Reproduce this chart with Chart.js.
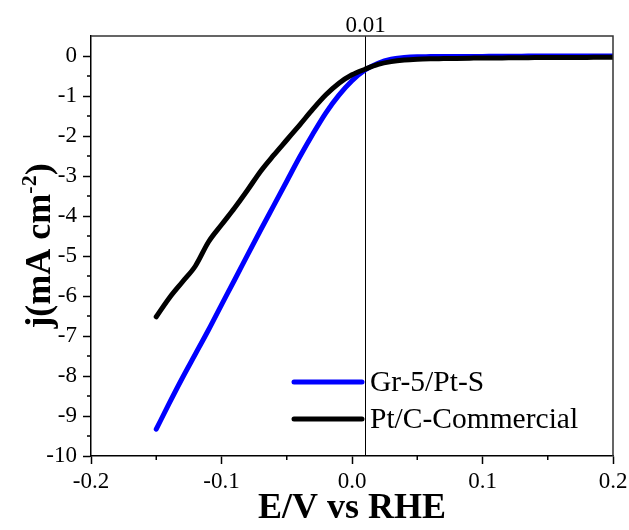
<!DOCTYPE html>
<html lang="en">
<head>
  <meta charset="UTF-8" />
  <title>LSV polarization curves</title>
  <style>
    body { margin: 0; background: #fff; }
    #wrap { width: 629px; height: 530px; }
  </style>
</head>
<body>
  <div id="wrap"><canvas id="lsv"></canvas></div>

  <script src="https://cdn.jsdelivr.net/npm/chart.js"></script>
  <script>
    // potential (V vs RHE), shared by both curves
    const potential = [-0.15, -0.14, -0.13, -0.12, -0.11, -0.10, -0.09, -0.08, -0.07, -0.06,
      -0.05, -0.04, -0.03, -0.02, -0.01, 0.00, 0.01, 0.02, 0.03, 0.04, 0.05, 0.06, 0.07, 0.08,
      0.09, 0.10, 0.11, 0.12, 0.13, 0.14, 0.15, 0.16, 0.17, 0.18, 0.19, 0.20];

    // current density, mA cm-2
    const grPtS = [-9.33, -8.68, -8.05, -7.45, -6.85, -6.22, -5.60, -4.97, -4.35, -3.74,
      -3.13, -2.52, -1.95, -1.42, -0.98, -0.62, -0.35, -0.18, -0.08, -0.04, -0.02, -0.015, -0.01, -0.01,
      -0.01, -0.01, -0.005, -0.005, -0.005, 0, 0, 0, 0, 0, 0, 0];
    const ptcCommercial = [-6.52, -6.05, -5.65, -5.25, -4.65, -4.22, -3.80, -3.35, -2.88, -2.48,
      -2.10, -1.72, -1.33, -0.97, -0.68, -0.47, -0.33, -0.21, -0.14, -0.10, -0.08, -0.07, -0.065, -0.06,
      -0.055, -0.05, -0.05, -0.045, -0.045, -0.04, -0.04, -0.04, -0.035, -0.035, -0.03, -0.03];

    const seriesNames = ['Gr-5/Pt-S', 'Pt/C-Commercial'];
    const xTicks = [-0.2, -0.1, 0.0, 0.1, 0.2];
    const yTicks = [0, -1, -2, -3, -4, -5, -6, -7, -8, -9, -10];
    const xMinor = [-0.15, -0.05, 0.05, 0.15];
    const yMinor = [-0.5, -1.5, -2.5, -3.5, -4.5, -5.5, -6.5, -7.5, -8.5, -9.5];
    const markerE = 0.01;

    const serif = "'Liberation Serif', 'Times New Roman', serif";

    const toPoints = (ys) => potential.map((x, i) => ({ x: x, y: ys[i] }));

    // frame, minor ticks, 0.01 marker, legend and y title
    const extras = {
      id: 'extras',
      beforeDatasetsDraw(chart) {
        const { ctx, chartArea: a, scales: { x } } = chart;
        const px = Math.round(x.getPixelForValue(markerE)) + 0.5;
        ctx.save();
        ctx.strokeStyle = '#000';
        ctx.lineWidth = 1;
        ctx.beginPath();
        ctx.moveTo(px, a.top);
        ctx.lineTo(px, a.bottom);
        ctx.stroke();
        ctx.fillStyle = '#000';
        ctx.font = '23px ' + serif;
        ctx.textAlign = 'center';
        ctx.textBaseline = 'alphabetic';
        ctx.fillText('0.01', px, a.top - 4);
        ctx.restore();
      },
      afterDraw(chart) {
        const { ctx, chartArea: a, scales: { x, y } } = chart;
        ctx.save();
        // top and right edges
        ctx.strokeStyle = '#333';
        ctx.lineWidth = 1.5;
        ctx.beginPath();
        ctx.moveTo(a.left, a.top);
        ctx.lineTo(a.right, a.top);
        ctx.lineTo(a.right, a.bottom);
        ctx.stroke();
        // minor ticks
        ctx.strokeStyle = '#000';
        ctx.lineWidth = 1.5;
        ctx.beginPath();
        xMinor.forEach(v => {
          const p = x.getPixelForValue(v);
          ctx.moveTo(p, a.bottom);
          ctx.lineTo(p, a.bottom + 4);
        });
        yMinor.forEach(v => {
          const p = y.getPixelForValue(v);
          ctx.moveTo(a.left, p);
          ctx.lineTo(a.left - 4, p);
        });
        ctx.stroke();

        // legend
        const colors = chart.data.datasets.map(d => d.borderColor);
        const lx = 294, ly = [382, 419];
        ctx.font = '29.5px ' + serif;
        ctx.textBaseline = 'middle';
        ctx.textAlign = 'left';
        seriesNames.forEach((name, i) => {
          ctx.strokeStyle = colors[i];
          ctx.lineWidth = 5;
          ctx.lineCap = 'round';
          ctx.beginPath();
          ctx.moveTo(lx, ly[i]);
          ctx.lineTo(lx + 68, ly[i]);
          ctx.stroke();
          ctx.fillStyle = '#000';
          ctx.fillText(name, lx + 76, ly[i] + 1);
        });

        // y title with superscript
        ctx.translate(50, (a.top + a.bottom) / 2);
        ctx.rotate(-Math.PI / 2);
        ctx.fillStyle = '#000';
        ctx.textBaseline = 'alphabetic';
        const big = 'bold 36px ' + serif, small = 'bold 22px ' + serif;
        ctx.font = big;
        const w1 = ctx.measureText('j(mA cm').width;
        const w3 = ctx.measureText(')').width;
        ctx.font = small;
        const w2 = ctx.measureText('-2').width;
        let sx = -(w1 + w2 + w3) / 2;
        ctx.font = big;
        ctx.fillText('j(mA cm', sx, 0);
        sx += w1;
        ctx.font = small;
        ctx.fillText('-2', sx, -14);
        sx += w2;
        ctx.font = big;
        ctx.fillText(')', sx, 0);
        ctx.restore();
      }
    };

    new Chart(document.getElementById('lsv'), {
      type: 'line',
      data: {
        datasets: [
          {
            label: seriesNames[0],
            data: toPoints(grPtS),
            borderColor: '#0000ff',
            borderWidth: 5,
            borderCapStyle: 'round',
            pointRadius: 0,
            cubicInterpolationMode: 'monotone',
            order: 1
          },
          {
            label: seriesNames[1],
            data: toPoints(ptcCommercial),
            borderColor: '#000000',
            borderWidth: 5,
            borderCapStyle: 'round',
            pointRadius: 0,
            cubicInterpolationMode: 'monotone',
            order: 0
          }
        ]
      },
      options: {
        responsive: true,
        maintainAspectRatio: false,
        animation: false,
        layout: { padding: { top: 36, right: 16, left: 0, bottom: 0 } },
        plugins: {
          legend: { display: false },
          tooltip: { enabled: false }
        },
        scales: {
          x: {
            type: 'linear',
            min: -0.2,
            max: 0.2,
            afterBuildTicks: (s) => { s.ticks = xTicks.map(v => ({ value: v })); },
            afterFit: (s) => { s.height = 74; s.paddingLeft = 0; s.paddingRight = 0; },
            border: { color: '#000', width: 1.5 },
            grid: { drawOnChartArea: false, tickLength: 8, color: '#000', tickWidth: 1.5 },
            ticks: {
              color: '#000',
              font: { family: serif, size: 23 },
              padding: 4,
              maxRotation: 0,
              autoSkip: false,
              callback: (v) => Number(v).toFixed(1)
            },
            title: {
              display: true,
              text: 'E/V vs RHE',
              color: '#000',
              font: { family: serif, size: 36, weight: 'bold' },
              padding: { top: 0, bottom: 0 }
            }
          },
          y: {
            type: 'linear',
            min: -10,
            max: 0.5,
            afterBuildTicks: (s) => { s.ticks = yTicks.map(v => ({ value: v })); },
            afterFit: (s) => { s.width = 91; s.paddingTop = 0; s.paddingBottom = 0; },
            border: { color: '#000', width: 1.5 },
            grid: { drawOnChartArea: false, tickLength: 8, color: '#000', tickWidth: 1.5 },
            ticks: {
              color: '#000',
              font: { family: serif, size: 23 },
              padding: 6,
              autoSkip: false,
              callback: (v) => String(v)
            }
          }
        }
      },
      plugins: [extras]
    });
  </script>
</body>
</html>
